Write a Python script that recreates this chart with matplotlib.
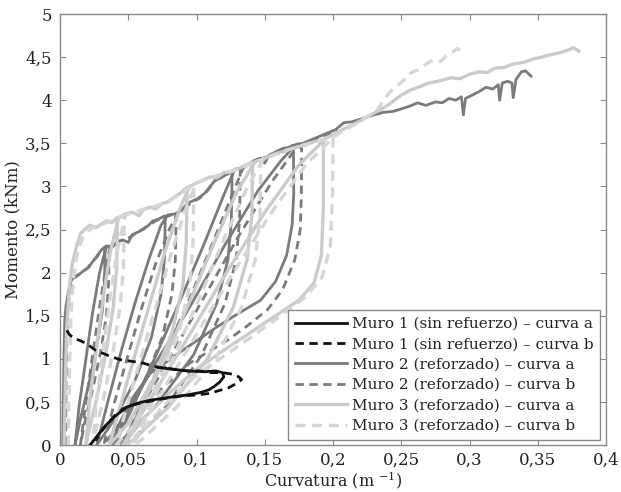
import numpy as np
import matplotlib
matplotlib.use("Agg")
import matplotlib.pyplot as plt

plt.rcParams['font.family'] = ['DejaVu Serif']
plt.rcParams['mathtext.fontset'] = 'dejavuserif'

# ---- tick labels (decimal comma) ----
x_ticks = [0, 0.05, 0.1, 0.15, 0.2, 0.25, 0.3, 0.35, 0.4]
x_tick_labels = ['0', '0,05', '0,1', '0,15', '0,2', '0,25', '0,3', '0,35', '0,4']
y_ticks = [0, 0.5, 1, 1.5, 2, 2.5, 3, 3.5, 4, 4.5, 5]
y_tick_labels = ['0', '0,5', '1', '1,5', '2', '2,5', '3', '3,5', '4', '4,5', '5']

series_labels = [
    'Muro 1 (sin refuerzo) – curva a',
    'Muro 1 (sin refuerzo) – curva b',
    'Muro 2 (reforzado) – curva a',
    'Muro 2 (reforzado) – curva b',
    'Muro 3 (reforzado) – curva a',
    'Muro 3 (reforzado) – curva b',
]

# ---- Muro 1 (sin refuerzo) ----
m1a_x = [0.022, 0.027, 0.033, 0.040, 0.049, 0.058, 0.066, 0.075, 0.083, 0.093, 0.103, 0.109,
         0.113, 0.117, 0.120, 0.119, 0.114, 0.106, 0.093, 0.082, 0.072]
m1a_y = [0.00, 0.10, 0.22, 0.33, 0.44, 0.49, 0.52, 0.54, 0.56, 0.58, 0.61, 0.64,
         0.68, 0.73, 0.79, 0.84, 0.86, 0.85, 0.86, 0.88, 0.90]

m1b_x = [0.005, 0.007, 0.010, 0.015, 0.020, 0.026, 0.035, 0.044, 0.053, 0.061, 0.067, 0.073,
         0.083, 0.093, 0.102, 0.110, 0.119, 0.127, 0.131, 0.133, 0.130, 0.123, 0.116, 0.110,
         0.100, 0.090, 0.080, 0.070, 0.060, 0.052, 0.046, 0.040, 0.035, 0.030, 0.026]
m1b_y = [1.33, 1.28, 1.24, 1.21, 1.17, 1.10, 1.04, 0.99, 0.97, 0.95, 0.92, 0.90,
         0.88, 0.86, 0.86, 0.84, 0.84, 0.82, 0.79, 0.76, 0.72, 0.66, 0.63, 0.60,
         0.58, 0.57, 0.55, 0.52, 0.49, 0.46, 0.42, 0.34, 0.25, 0.15, 0.05]

# ---- Muro 2 (reforzado), curva a ----
m2a_x = [0.002, 0.0025, 0.003, 0.0035, 0.0045, 0.006, 0.008, 0.010, 0.014, 0.018, 0.021, 0.024,
         0.027, 0.030, 0.033,
         0.033, 0.0326, 0.031, 0.027, 0.021, 0.015, 0.011,
         0.014, 0.019, 0.024, 0.029, 0.034,
         0.038, 0.042, 0.046, 0.050, 0.053, 0.057, 0.061, 0.065, 0.068, 0.072, 0.077,
         0.077, 0.0765, 0.074, 0.067, 0.055, 0.040, 0.027,
         0.035, 0.045, 0.055, 0.065, 0.074, 0.079,
         0.084, 0.089, 0.093, 0.097, 0.101, 0.106, 0.110, 0.114, 0.118, 0.122, 0.126,
         0.126, 0.1255, 0.123, 0.115, 0.098, 0.070, 0.045, 0.040,
         0.055, 0.072, 0.090, 0.106, 0.120, 0.128,
         0.133, 0.138, 0.142, 0.147, 0.150, 0.153, 0.158, 0.163, 0.167, 0.171,
         0.171, 0.1712, 0.170, 0.166, 0.158, 0.147, 0.130, 0.115, 0.090, 0.066, 0.052, 0.042, 0.038,
         0.050, 0.070, 0.095, 0.120, 0.145, 0.162, 0.173,
         0.178, 0.184, 0.190, 0.196, 0.202, 0.208, 0.214, 0.220, 0.228, 0.237, 0.244, 0.250,
         0.256, 0.262, 0.268, 0.275, 0.280, 0.285, 0.290, 0.294, 0.2955, 0.297, 0.302, 0.307,
         0.312, 0.317, 0.321, 0.322, 0.324, 0.328, 0.331, 0.332, 0.334, 0.338, 0.341, 0.345]
m2a_y = [0.00, 0.60, 1.10, 1.45, 1.62, 1.76, 1.90, 1.95, 1.98, 2.03, 2.06, 2.13,
         2.18, 2.26, 2.30,
         2.20, 1.90, 1.55, 1.15, 0.70, 0.30, 0.00,
         0.45, 1.00, 1.55, 2.00, 2.31,
         2.29, 2.36, 2.38, 2.35, 2.44, 2.47, 2.50, 2.55, 2.60, 2.62, 2.66,
         2.55, 2.15, 1.75, 1.25, 0.75, 0.30, 0.00,
         0.50, 1.10, 1.65, 2.15, 2.55, 2.67,
         2.68, 2.72, 2.80, 2.83, 2.86, 2.92, 3.00, 3.08, 3.10, 3.14, 3.18,
         3.08, 2.60, 2.15, 1.65, 1.05, 0.45, 0.05, 0.00,
         0.50, 1.10, 1.75, 2.35, 2.90, 3.20,
         3.21, 3.25, 3.30, 3.33, 3.27, 3.36, 3.40, 3.44, 3.45, 3.48,
         3.40, 2.90, 2.55, 2.20, 1.90, 1.68, 1.52, 1.37, 1.10, 0.83, 0.52, 0.20, 0.00,
         0.40, 0.95, 1.60, 2.30, 2.95, 3.30, 3.49,
         3.50, 3.54, 3.58, 3.62, 3.66, 3.74, 3.75, 3.78, 3.82, 3.86, 3.87, 3.90,
         3.93, 3.97, 3.94, 3.98, 3.97, 4.02, 4.00, 4.04, 3.83, 4.02, 4.06, 4.10,
         4.15, 4.13, 4.18, 4.00, 4.20, 4.22, 4.20, 4.03, 4.24, 4.33, 4.34, 4.28]

# ---- Muro 2 (reforzado), curva b ----
m2b_x = [0.004, 0.0045, 0.005, 0.0055, 0.0065, 0.008, 0.010, 0.014, 0.020, 0.025, 0.030, 0.036,
         0.036, 0.0355, 0.034, 0.030, 0.024, 0.018, 0.015,
         0.019, 0.024, 0.029, 0.033, 0.037,
         0.043, 0.050, 0.057, 0.064, 0.070, 0.076, 0.082, 0.085,
         0.085, 0.0845, 0.082, 0.075, 0.062, 0.046, 0.032,
         0.040, 0.050, 0.060, 0.070, 0.080, 0.087,
         0.092, 0.097, 0.102, 0.108, 0.114, 0.120, 0.126, 0.132,
         0.132, 0.1315, 0.129, 0.121, 0.104, 0.078, 0.052, 0.046,
         0.060, 0.078, 0.095, 0.112, 0.126, 0.134,
         0.140, 0.147, 0.153, 0.160, 0.166, 0.172, 0.177,
         0.177, 0.1768, 0.176, 0.172, 0.163, 0.152, 0.137, 0.123, 0.095, 0.072, 0.056, 0.047, 0.045,
         0.060, 0.080, 0.105, 0.130, 0.155, 0.170, 0.179,
         0.185, 0.192, 0.198, 0.203]
m2b_y = [0.00, 0.70, 1.20, 1.50, 1.68, 1.82, 1.93, 1.98, 2.05, 2.15, 2.25, 2.31,
         2.20, 1.85, 1.50, 1.10, 0.65, 0.25, 0.00,
         0.50, 1.05, 1.60, 2.00, 2.32,
         2.36, 2.40, 2.47, 2.54, 2.60, 2.64, 2.67, 2.70,
         2.58, 2.15, 1.75, 1.25, 0.75, 0.30, 0.00,
         0.50, 1.05, 1.60, 2.10, 2.50, 2.71,
         2.76, 2.82, 2.86, 2.95, 3.07, 3.12, 3.17, 3.20,
         3.10, 2.60, 2.15, 1.65, 1.05, 0.45, 0.05, 0.00,
         0.50, 1.10, 1.70, 2.35, 2.90, 3.21,
         3.27, 3.32, 3.35, 3.40, 3.44, 3.47, 3.50,
         3.40, 2.90, 2.50, 2.15, 1.80, 1.57, 1.38, 1.22, 0.95, 0.62, 0.30, 0.05, 0.00,
         0.45, 1.00, 1.70, 2.40, 3.05, 3.38, 3.50,
         3.54, 3.58, 3.62, 3.65]

# ---- Muro 3 (reforzado), curva a ----
m3a_x = [0.003, 0.004, 0.005, 0.007, 0.009, 0.012, 0.015, 0.018, 0.022, 0.026, 0.030, 0.034,
         0.038, 0.042,
         0.042, 0.0415, 0.039, 0.034, 0.027, 0.021, 0.019,
         0.022, 0.027, 0.032, 0.037, 0.043,
         0.048, 0.053, 0.058, 0.061, 0.066, 0.070, 0.075, 0.079, 0.084, 0.088, 0.093,
         0.093, 0.0925, 0.090, 0.082, 0.068, 0.050, 0.036,
         0.045, 0.055, 0.066, 0.077, 0.088, 0.095,
         0.100, 0.105, 0.110, 0.115, 0.120, 0.125, 0.130, 0.135, 0.141,
         0.141, 0.1405, 0.137, 0.127, 0.108, 0.080, 0.053, 0.048,
         0.060, 0.078, 0.096, 0.113, 0.130, 0.143,
         0.148, 0.152, 0.158, 0.163, 0.168, 0.174, 0.180, 0.186, 0.193,
         0.193, 0.193, 0.1915, 0.186, 0.175, 0.158, 0.139, 0.120, 0.100, 0.080, 0.062, 0.050, 0.046,
         0.065, 0.090, 0.120, 0.150, 0.175, 0.195,
         0.200, 0.207, 0.215, 0.222, 0.230, 0.238, 0.245, 0.250, 0.257, 0.264, 0.270, 0.277,
         0.286, 0.293, 0.300, 0.307, 0.313, 0.318, 0.325, 0.332, 0.340, 0.347, 0.353, 0.360,
         0.366, 0.372, 0.376, 0.380]
m3a_y = [0.00, 0.80, 1.40, 1.85, 2.10, 2.30, 2.45, 2.50, 2.55, 2.52, 2.56, 2.60,
         2.58, 2.64,
         2.50, 2.05, 1.60, 1.10, 0.55, 0.15, 0.00,
         0.55, 1.15, 1.75, 2.25, 2.64,
         2.68, 2.70, 2.66, 2.73, 2.76, 2.74, 2.80, 2.82, 2.88, 2.92, 2.99,
         2.88, 2.35, 1.85, 1.30, 0.75, 0.25, 0.00,
         0.50, 1.05, 1.65, 2.25, 2.75, 3.00,
         3.04, 3.07, 3.11, 3.10, 3.16, 3.17, 3.20, 3.24, 3.28,
         3.16, 2.65, 2.15, 1.60, 1.00, 0.45, 0.05, 0.00,
         0.45, 1.05, 1.70, 2.35, 2.95, 3.29,
         3.31, 3.34, 3.38, 3.40, 3.43, 3.46, 3.48, 3.52, 3.54,
         3.45, 2.80, 2.20, 1.88, 1.68, 1.50, 1.30, 1.10, 0.88, 0.60, 0.32, 0.08, 0.00,
         0.50, 1.15, 1.95, 2.70, 3.25, 3.56,
         3.60, 3.66, 3.72, 3.78, 3.85, 3.92, 4.00, 4.06, 4.12, 4.16, 4.20, 4.22,
         4.26, 4.25, 4.30, 4.33, 4.32, 4.37, 4.38, 4.42, 4.44, 4.48, 4.50, 4.53,
         4.55, 4.58, 4.61, 4.57]

# ---- Muro 3 (reforzado), curva b ----
m3b_x = [0.006, 0.007, 0.008, 0.010, 0.013, 0.017, 0.022, 0.028, 0.034, 0.040, 0.047,
         0.047, 0.0465, 0.044, 0.039, 0.032, 0.026, 0.024,
         0.027, 0.032, 0.037, 0.042, 0.048,
         0.055, 0.062, 0.070, 0.078, 0.085, 0.092, 0.098,
         0.098, 0.0975, 0.095, 0.087, 0.073, 0.055, 0.041,
         0.050, 0.060, 0.071, 0.082, 0.093, 0.100,
         0.108, 0.116, 0.124, 0.132, 0.140, 0.147,
         0.147, 0.1465, 0.143, 0.133, 0.114, 0.086, 0.059, 0.054,
         0.066, 0.084, 0.102, 0.119, 0.136, 0.149,
         0.156, 0.164, 0.172, 0.180, 0.188, 0.194, 0.200,
         0.200, 0.1995, 0.198, 0.192, 0.180, 0.160, 0.139, 0.120, 0.103, 0.085, 0.068, 0.057, 0.052,
         0.070, 0.095, 0.125, 0.155, 0.180, 0.201,
         0.207, 0.214, 0.220, 0.227, 0.233, 0.237, 0.242, 0.248, 0.253, 0.257, 0.262, 0.268,
         0.274, 0.279, 0.283, 0.287, 0.291, 0.293]
m3b_y = [0.00, 0.90, 1.50, 1.95, 2.25, 2.42, 2.50, 2.55, 2.58, 2.62, 2.66,
         2.52, 2.05, 1.60, 1.10, 0.55, 0.15, 0.00,
         0.55, 1.15, 1.75, 2.25, 2.67,
         2.70, 2.74, 2.77, 2.82, 2.88, 2.95, 3.02,
         2.90, 2.35, 1.85, 1.30, 0.75, 0.25, 0.00,
         0.50, 1.05, 1.65, 2.25, 2.78, 3.04,
         3.10, 3.13, 3.17, 3.21, 3.26, 3.31,
         3.18, 2.65, 2.15, 1.60, 1.00, 0.45, 0.05, 0.00,
         0.45, 1.05, 1.70, 2.35, 2.95, 3.32,
         3.36, 3.41, 3.45, 3.49, 3.52, 3.55, 3.57,
         3.47, 2.85, 2.30, 1.95, 1.72, 1.48, 1.24, 1.03, 0.85, 0.60, 0.32, 0.10, 0.00,
         0.50, 1.15, 1.95, 2.70, 3.25, 3.58,
         3.64, 3.70, 3.76, 3.83, 3.90, 4.00, 4.10, 4.18, 4.25, 4.32, 4.35, 4.42,
         4.47, 4.45, 4.52, 4.55, 4.60, 4.58]

# ---- styles ----
BLACK = '#111111'
DARK = '#7b7b7b'
LIGHT = '#cbcbcb'
LIGHT_B = '#d6d6d6'
FRAME = '#8a8a8a'
TEXT = '#222222'
LW = 2.0
DASH = (3.0, 2.0)

fig = plt.figure(figsize=(6.21, 4.92), dpi=100)
ax = fig.add_axes([0.0966, 0.0955, 0.8794, 0.876])

lines = []
lines += ax.plot(m1a_x, m1a_y, color=BLACK, lw=LW, zorder=5, label=series_labels[0])
lines += ax.plot(m1b_x, m1b_y, color=BLACK, lw=LW, dashes=DASH, zorder=5, label=series_labels[1])
lines += ax.plot(m2a_x, m2a_y, color=DARK, lw=LW, zorder=3, label=series_labels[2])
lines += ax.plot(m2b_x, m2b_y, color=DARK, lw=LW, dashes=DASH, zorder=3, label=series_labels[3])
lines += ax.plot(m3a_x, m3a_y, color=LIGHT, lw=LW + 0.4, zorder=4, label=series_labels[4])
lines += ax.plot(m3b_x, m3b_y, color=LIGHT_B, lw=LW + 0.4, dashes=DASH, zorder=4, label=series_labels[5])

ax.set_xlim(0, 0.4)
ax.set_ylim(0, 5)
ax.set_xticks(x_ticks)
ax.set_xticklabels(x_tick_labels)
ax.set_yticks(y_ticks)
ax.set_yticklabels(y_tick_labels)
ax.tick_params(direction='in', length=4, width=0.8, color=FRAME, labelsize=12,
               labelcolor=TEXT, top=True, right=True)
ax.tick_params(axis='x', pad=5)
ax.tick_params(axis='y', pad=6)
for s in ax.spines.values():
    s.set_color(FRAME)
    s.set_linewidth(1.0)

ax.set_xlabel(r'Curvatura (m $^{-1}$)', fontsize=11.5, color=TEXT, labelpad=0)
ax.set_ylabel('Momento (kNm)', fontsize=12, color=TEXT, labelpad=3)

leg = ax.legend(handles=lines, loc='lower right', bbox_to_anchor=(0.989, 0.012),
                borderaxespad=0, fontsize=11, frameon=True, fancybox=False,
                handlelength=3.4, handletextpad=0.3, labelspacing=0.42,
                borderpad=0.45, framealpha=1)
leg.get_frame().set_edgecolor(FRAME)
leg.get_frame().set_linewidth(1.0)
for t in leg.get_texts():
    t.set_color(TEXT)

fig.savefig('out.png', dpi=100)
